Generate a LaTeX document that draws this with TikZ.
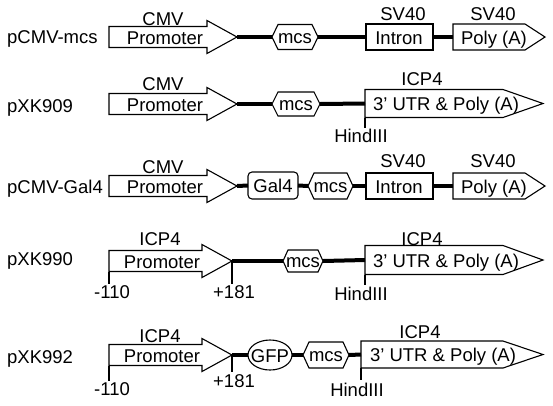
\documentclass[tikz,border=0pt]{standalone}
\usepackage{fontspec}
\setmainfont{Liberation Sans}
\usetikzlibrary{shapes.geometric}
\newcommand\promo[5]{% name, xl, xb, xt, y
  \draw[part] (#2,#5-10.5) -- (#3,#5-10.5) -- (#3,#5-16.5) -- (#4,#5) -- (#3,#5+16.5) -- (#3,#5+10.5) -- (#2,#5+10.5) -- cycle;
  \node[box, minimum width={#4-#2}, minimum height=33] (#1) at ({(#2+#4)/2},#5) {};
  \coordinate (#1bl) at (#2,#5+10.5);
}
\newcommand\hexa[6]{% name, xl, xr, y, halfh, inset
  \draw[part] (#2,#4) -- (#2+#6,#4-#5) -- (#3-#6,#4-#5) -- (#3,#4) -- (#3-#6,#4+#5) -- (#2+#6,#4+#5) -- cycle;
  \node[box, minimum width={#3-#2}, minimum height={2*#5}] (#1) at ({(#2+#3)/2},#4) {};
}
\newcommand\pent[6]{% name, xl, xb, xt, y, halfh
  \draw[part] (#2,#5-#6) -- (#3,#5-#6) -- (#4,#5) -- (#3,#5+#6) -- (#2,#5+#6) -- cycle;
  \node[box, minimum width={#4-#2}, minimum height={2*#6}] (#1) at ({(#2+#4)/2},#5) {};
}
\begin{document}
\begin{tikzpicture}[x=1pt,y=-1pt,
  part/.style={draw, line width=1.1pt, fill=white},
  bb/.style={line width=4pt},
  tk/.style={line width=1.1pt},
  txt/.style={font=\fontsize{18.5}{20}\selectfont, inner sep=0pt, anchor=base},
  box/.style={inner sep=0pt, outer sep=0pt},
]
\useasboundingbox[fill=white] (0,0) rectangle (553,405);

% ---------- Row 1: pCMV-mcs ----------
\node[txt, anchor=base west] (n1) at (7,43) {pCMV-mcs};
\promo{p1}{109}{207}{237}{37}
\node[txt] (p1t) at (165,44) {Promoter};
\node[txt] (p1l) at (163,25) {CMV};
\hexa{m1}{272}{318}{37}{12.5}{6}
\node[txt] (m1t) at (m1 |- 0,43) {mcs};
\node[part, box, minimum width=67, minimum height=26] (i1) at (399.5,37) {};
\node[txt] (i1t) at (399,44) {Intron};
\node[txt] (i1l) at (403,20) {SV40};
\pent{a1}{453}{525}{545}{37}{13}
\node[txt] (a1t) at (494,44) {Poly (A)};
\node[txt] (a1l) at (493,20) {SV40};
\draw[bb] (p1.east) -- (m1.west);
\draw[bb] (m1.east) -- (i1.west);
\draw[bb] (i1.east) -- (a1.west);

% ---------- Row 2: pXK909 ----------
\node[txt, anchor=base west] (n2) at (7,112) {pXK909};
\promo{p2}{109}{207}{237}{104}
\node[txt] (p2t) at (165,111) {Promoter};
\node[txt] (p2l) at (163,90) {CMV};
\hexa{m2}{272}{320}{104}{12}{6}
\node[txt] (m2t) at (m2 |- 0,110) {mcs};
\pent{u2}{365}{503}{543}{103.5}{14}
\node[txt] (u2t) at (446,110) {3’ UTR \& Poly (A)};
\node[txt] (u2l) at (422,85) {ICP4};
\coordinate (h2) at (365,128);
\draw[tk] (u2.south west) -- (h2);
\node[txt] (h2t) at (361,142) {HindIII};
\draw[bb] (p2.east) -- (m2.west);
\draw[bb] (m2.east) -- (u2.west);

% ---------- Row 3: pCMV-Gal4 ----------
\node[txt, anchor=base west] (n3) at (7,193) {pCMV-Gal4};
\promo{p3}{109}{207}{237}{186}
\node[txt] (p3t) at (165,193) {Promoter};
\node[txt] (p3l) at (163,173) {CMV};
\node[part, box, rounded corners=4pt, minimum width=50, minimum height=27] (g3) at (273,185.5) {};
\node[txt] (g3t) at (273,192) {Gal4};
\hexa{m3}{308}{353}{186}{13}{6}
\node[txt] (m3t) at (m3 |- 0,192) {mcs};
\node[part, box, minimum width=67, minimum height=26] (i3) at (399.5,186) {};
\node[txt] (i3t) at (399,193) {Intron};
\node[txt] (i3l) at (403,167) {SV40};
\pent{a3}{453}{525}{545}{186}{13}
\node[txt] (a3t) at (494,193) {Poly (A)};
\node[txt] (a3l) at (493,167) {SV40};
\draw[bb] (p3.east) -- (g3.west);
\draw[bb] (g3.east) -- (m3.west);
\draw[bb] (m3.east) -- (i3.west);
\draw[bb] (i3.east) -- (a3.west);

% ---------- Row 4: pXK990 ----------
\node[txt, anchor=base west] (n4) at (7,265) {pXK990};
\promo{p4}{109}{202}{232}{261}
\node[txt] (p4t) at (162,268) {Promoter};
\node[txt] (p4l) at (160,245) {ICP4};
\coordinate (q4a) at (109,284);
\coordinate (q4b) at (232,284);
\draw[tk] (p4bl) -- (q4a);
\draw[tk] (p4.east) -- (q4b);
\node[txt] (q4at) at (112,298) {-110};
\node[txt] (q4bt) at (234,298) {+181};
\hexa{m4}{283}{323}{261}{11}{5}
\node[txt] (m4t) at (m4 |- 0,267) {mcs};
\pent{u4}{365}{503}{543}{260}{14.5}
\node[txt] (u4t) at (446,267) {3’ UTR \& Poly (A)};
\node[txt] (u4l) at (422,245) {ICP4};
\coordinate (h4) at (365,285);
\draw[tk] (u4.south west) -- (h4);
\node[txt] (h4t) at (361,300) {HindIII};
\draw[bb] (p4.east) -- (m4.west);
\draw[bb] (m4.east) -- (u4.west);

% ---------- Row 5: pXK992 ----------
\node[txt, anchor=base west] (n5) at (7,363) {pXK992};
\promo{p5}{109}{202}{232}{355}
\node[txt] (p5t) at (162,362) {Promoter};
\node[txt] (p5l) at (160,342) {ICP4};
\coordinate (q5a) at (109,381);
\coordinate (q5b) at (232,372);
\draw[tk] (p5bl) -- (q5a);
\draw[tk] (p5.east) -- (q5b);
\node[txt] (q5at) at (112,395) {-110};
\node[txt] (q5bt) at (234,387) {+181};
\node[part, box, ellipse, minimum width=44, minimum height=30] (g5) at (270,355) {};
\node[txt] (g5t) at (270,362) {GFP};
\hexa{m5}{303}{349}{355}{13}{6}
\node[txt] (m5t) at (m5 |- 0,361) {mcs};
\pent{u5}{361}{503}{543}{354.5}{13.5}
\node[txt] (u5t) at (443,361) {3’ UTR \& Poly (A)};
\node[txt] (u5l) at (420,338) {ICP4};
\coordinate (h5) at (361,380);
\draw[tk] (u5.south west) -- (h5);
\node[txt] (h5t) at (357,396) {HindIII};
\draw[bb] (p5.east) -- (g5.west);
\draw[bb] (g5.east) -- (m5.west);
\draw[bb] (m5.east) -- (u5.west);
\end{tikzpicture}
\end{document}
